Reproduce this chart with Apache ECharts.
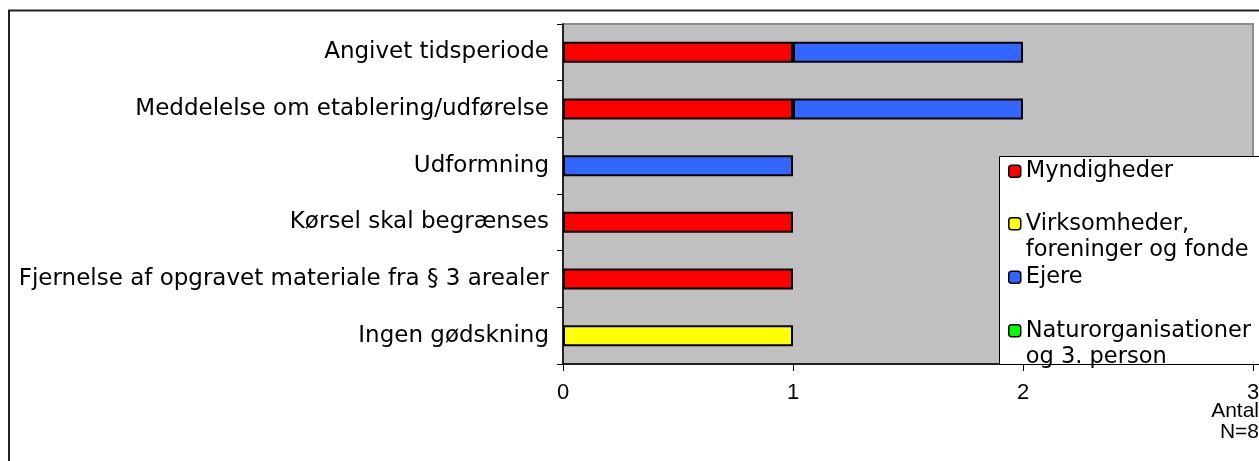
<!DOCTYPE html>
<html>
<head>
<meta charset="utf-8">
<script src="https://cdn.jsdelivr.net/npm/echarts@6/dist/echarts.min.js"></script>
<style>
html,body{margin:0;padding:0;background:#fff;}
#chart{width:1259px;height:461px;}
</style>
</head>
<body>
<div id="chart"></div>
<script>
// Categories, top to bottom
const categories = [
  'Angivet tidsperiode',
  'Meddelelse om etablering/udførelse',
  'Udformning',
  'Kørsel skal begrænses',
  'Fjernelse af opgravet materiale fra § 3 arealer',
  'Ingen gødskning'
];
const seriesNames = [
  'Myndigheder',
  'Virksomheder,\nforeninger og fonde',
  'Ejere',
  'Naturorganisationer\nog 3. person'
];
const myndigheder   = [1, 1, null, 1, 1, null];
const virksomheder  = [null, null, null, null, null, 1];
const ejere         = [1, 1, 1, null, null, null];
const naturorg      = [null, null, null, null, null, null];
const xTicks = [0, 1, 2, 3];
const axisName = 'Antal\nN=8';

const colors = ['#FF0000', '#FFFF00', '#3366FF', '#00FF00'];
const values = [myndigheder, virksomheder, ejere, naturorg];

const labelFont = 'DejaVu Sans';
const chart = echarts.init(document.getElementById('chart'), null, {renderer: 'canvas'});

const series = seriesNames.map((n, i) => ({
  name: n,
  type: 'bar',
  stack: 'total',
  barWidth: 21,
  data: values[i],
  itemStyle: {color: colors[i], borderColor: '#000', borderWidth: 2},
  emphasis: {disabled: true},
  animation: false
}));

function legendFor(i, top, twoLine) {
  return {
    show: true,
    left: 1008,
    top: top,
    padding: 0,
    orient: 'vertical',
    itemWidth: 12,
    itemHeight: 12,
    itemGap: 0,
    selectedMode: false,
    z: 10,
    data: [{
      name: seriesNames[i],
      itemStyle: {borderColor: '#000', borderWidth: 1.5}
    }],
    formatter: twoLine ? (n => '\n' + n) : (n => n),
    textStyle: {fontFamily: labelFont, fontSize: 22.5, color: '#000', lineHeight: 26.5}
  };
}

const option = {
  animation: false,
  backgroundColor: '#fff',
  grid: {
    left: 563, top: 24, right: 6, bottom: 97,
    show: true, backgroundColor: '#C0C0C0', borderColor: '#8c8c8c', borderWidth: 2,
    containLabel: false,
    outerBoundsMode: 'none'
  },
  xAxis: {
    type: 'value',
    min: 0, max: 3, interval: 1,
    splitLine: {show: false},
    axisLine: {show: true, lineStyle: {color: '#000', width: 1.5}},
    axisTick: {show: true, length: 7, lineStyle: {color: '#000', width: 1}},
    axisLabel: {
      margin: 18,
      fontFamily: 'Liberation Sans Narrow, Liberation Sans',
      fontSize: 22, color: '#000',
      formatter: v => xTicks.includes(v) ? String(v) : ''
    },
    name: axisName,
    nameLocation: 'end',
    nameGap: 6,
    nameMoveOverlap: false,
    nameTextStyle: {
      align: 'right', verticalAlign: 'top',
      fontFamily: 'Liberation Sans Narrow, Liberation Sans',
      fontSize: 21, color: '#000', lineHeight: 21,
      padding: [37, 0, 0, 0]
    }
  },
  yAxis: {
    type: 'category',
    data: categories,
    inverse: true,
    axisLine: {show: true, lineStyle: {color: '#000', width: 1.5}},
    axisTick: {show: true, length: 6, lineStyle: {color: '#000', width: 1}},
    axisLabel: {margin: 14, fontFamily: labelFont, fontSize: 23, color: '#000'}
  },
  legend: [
    legendFor(0, 158, false),
    legendFor(1, 184, true),
    legendFor(2, 264, false),
    legendFor(3, 291, true)
  ],
  graphic: [
    {
      type: 'rect', z: 1, silent: true,
      shape: {x: 9, y: 10.5, width: 1400, height: 600},
      style: {fill: 'none', stroke: '#222', lineWidth: 2}
    },
    {
      type: 'rect', z: 5, silent: true,
      shape: {x: 999.5, y: 156.5, width: 300, height: 208},
      style: {fill: '#fff', stroke: '#000', lineWidth: 1}
    }
  ],
  series: series
};
chart.setOption(option);
</script>
</body>
</html>
